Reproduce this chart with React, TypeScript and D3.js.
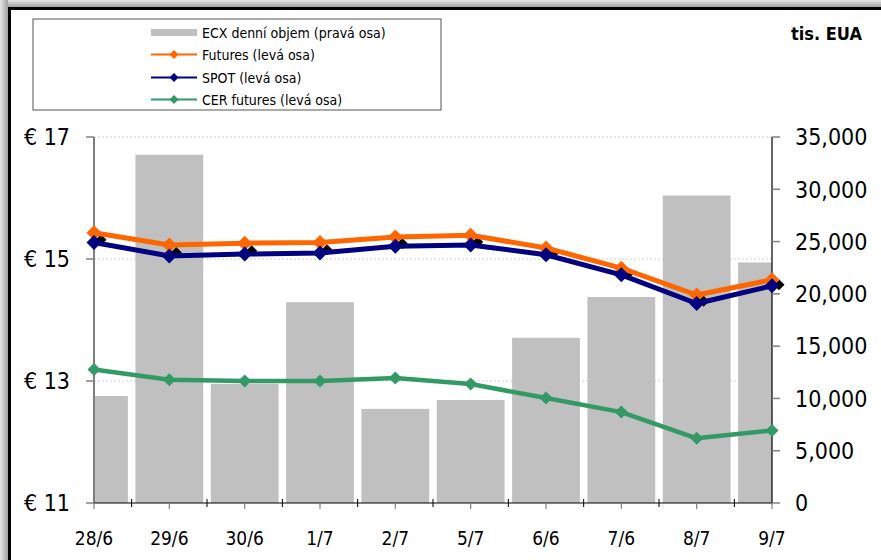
import React from "react";
import * as d3 from "d3";

const categories = ["28/6", "29/6", "30/6", "1/7", "2/7", "5/7", "6/6", "7/6", "8/7", "9/7"];
const volume = [10230, 33300, 11400, 19200, 9000, 9850, 15800, 19700, 29400, 23000];
const futures = [15.43, 15.23, 15.26, 15.27, 15.36, 15.39, 15.18, 14.85, 14.41, 14.66];
const spot = [15.27, 15.05, 15.08, 15.1, 15.21, 15.23, 15.07, 14.74, 14.27, 14.56];
const cer = [13.19, 13.02, 13.0, 13.0, 13.05, 12.95, 12.72, 12.49, 12.06, 12.19];
const leftTicks = [11, 13, 15, 17];
const rightTicks = [0, 5000, 10000, 15000, 20000, 25000, 30000, 35000];

const W = 881;
const H = 560;
const X0 = 94;
const X1 = 772;
const Y0 = 137;
const Y1 = 503;
const FONT = "Tahoma, 'DejaVu Sans Condensed', 'DejaVu Sans', sans-serif";

export default function App() {
  const x = d3.scalePoint<string>().domain(categories).range([X0, X1]);
  const step = x.step();
  const yL = d3.scaleLinear().domain([11, 17]).range([Y1, Y0]);
  const yR = d3.scaleLinear().domain([0, 35000]).range([Y1, Y0]);
  const barW = step * 0.9;
  const fmt = d3.format(",");

  const line = (vals: number[]) =>
    d3
      .line<number>()
      .x((_, i) => x(categories[i]) as number)
      .y((v) => yL(v))(vals) as string;

  const diamond = (cx: number, cy: number, r: number) =>
    `M${cx},${cy - r}L${cx + r},${cy}L${cx},${cy + r}L${cx - r},${cy}Z`;

  const series = [
    { vals: cer, color: "#339966", w: 4.5, r: 6.5 },
    { vals: futures, color: "#FF6600", w: 5, r: 7.5 },
    { vals: spot, color: "#000080", w: 5, r: 7.5 },
  ];

  return (
    <svg
      width={W}
      height={H}
      style={{ position: "absolute", left: 0, top: 0, background: "#fff" }}
      fontFamily={FONT}
    >
      <defs>
        <clipPath id="plotClip">
          <rect x={X0} y={0} width={X1 - X0} height={Y1} />
        </clipPath>
        <linearGradient id="gTop" x1="0" y1="0" x2="0" y2="1">
          <stop offset="0" stopColor="#e6e6e6" />
          <stop offset="1" stopColor="#a0a0a0" />
        </linearGradient>
        <linearGradient id="gLeft" x1="0" y1="0" x2="1" y2="0">
          <stop offset="0" stopColor="#e6e6e6" />
          <stop offset="1" stopColor="#a0a0a0" />
        </linearGradient>
      </defs>
      {/* outer frame */}
      <rect x={0} y={0} width={W} height={7} fill="url(#gTop)" />
      <rect x={0} y={0} width={8} height={H} fill="url(#gLeft)" />
      <line x1={8} x2={W} y1={8.5} y2={8.5} stroke="#000" strokeWidth={3} />
      <line x1={9.5} x2={9.5} y1={7} y2={H} stroke="#000" strokeWidth={3} />

      {/* gridlines */}
      {leftTicks.slice(1).map((t) => (
        <line key={"g" + t} x1={X0} x2={X1} y1={yL(t)} y2={yL(t)} stroke="#d0d0d0" strokeWidth={1} strokeDasharray="2,2" />
      ))}

      {/* bars */}
      <g clipPath="url(#plotClip)">
        {volume.map((v, i) => (
          <rect
            key={"b" + i}
            x={(x(categories[i]) as number) - barW / 2}
            y={yR(v)}
            width={barW}
            height={Y1 - yR(v)}
            fill="#C0C0C0"
          />
        ))}
      </g>

      {/* left axis */}
      <line x1={X0} x2={X0} y1={Y0} y2={Y1} stroke="#808080" strokeWidth={2} />
      {leftTicks.map((t) => (
        <g key={"l" + t}>
          <line x1={X0 - 8} x2={X0} y1={yL(t)} y2={yL(t)} stroke="#808080" strokeWidth={1.5} />
          <text x={70} y={yL(t)} dy="0.36em" textAnchor="end" fontSize={23} fill="#000">
            {"€ " + t}
          </text>
        </g>
      ))}

      {/* right axis */}
      <line x1={X1} x2={X1} y1={Y0} y2={Y1} stroke="#000" strokeWidth={1.2} />
      {rightTicks.map((t) => (
        <g key={"r" + t}>
          <line x1={X1} x2={X1 + 8} y1={yR(t)} y2={yR(t)} stroke="#808080" strokeWidth={1.5} />
          <text x={795} y={yR(t)} dy="0.36em" textAnchor="start" fontSize={23} fill="#000">
            {fmt(t)}
          </text>
        </g>
      ))}

      {/* bottom axis */}
      <line x1={X0} x2={X1} y1={Y1} y2={Y1} stroke="#000" strokeWidth={1.2} />
      {categories.map((c, i) => (
        <g key={"x" + c}>
          <line x1={x(c) as number} x2={x(c) as number} y1={Y1} y2={Y1 + 6} stroke="#808080" strokeWidth={1.2} />
          {i < categories.length - 1 && (
            <line
              x1={(x(c) as number) + step / 2}
              x2={(x(c) as number) + step / 2}
              y1={Y1 - 4}
              y2={Y1 + 4}
              stroke="#000"
              strokeWidth={1}
            />
          )}
          <text x={x(c) as number} y={545} textAnchor="middle" fontSize={19} fill="#000">
            {c}
          </text>
        </g>
      ))}

      {/* black shadow markers */}
      {futures.map((f, i) => (
        <path
          key={"s" + i}
          d={diamond((x(categories[i]) as number) + 7, (yL(f) + yL(spot[i])) / 2 + 2, 5.5)}
          fill="#000"
        />
      ))}

      {/* lines */}
      {series.map((s, k) => (
        <g key={"ln" + k}>
          <path d={line(s.vals)} fill="none" stroke={s.color} strokeWidth={s.w} strokeLinejoin="round" />
          {s.vals.map((v, i) => (
            <path key={i} d={diamond(x(categories[i]) as number, yL(v), s.r)} fill={s.color} />
          ))}
        </g>
      ))}

      {/* legend */}
      <rect x={33} y={19} width={408} height={91} fill="#fff" stroke="#555" strokeWidth={1} />
      <rect x={151} y={29} width={46} height={7} fill="#C0C0C0" />
      <text x={202} y={32.5} dy="0.36em" fontSize={14} fill="#000">ECX denní objem (pravá osa)</text>
      {[
        { label: "Futures (levá osa)", color: "#FF6600", y: 54.5 },
        { label: "SPOT (levá osa)", color: "#000080", y: 77.5 },
        { label: "CER futures (levá osa)", color: "#339966", y: 99.5 },
      ].map((e) => (
        <g key={e.label}>
          <line x1={151} x2={197} y1={e.y} y2={e.y} stroke={e.color} strokeWidth={2} />
          <path d={diamond(174, e.y, 4.5)} fill={e.color} />
          <text x={202} y={e.y} dy="0.36em" fontSize={14} fill="#000">{e.label}</text>
        </g>
      ))}

      <text x={862} y={34} dy="0.36em" textAnchor="end" fontSize={18} fontWeight="bold" fill="#000">
        tis. EUA
      </text>
    </svg>
  );
}
